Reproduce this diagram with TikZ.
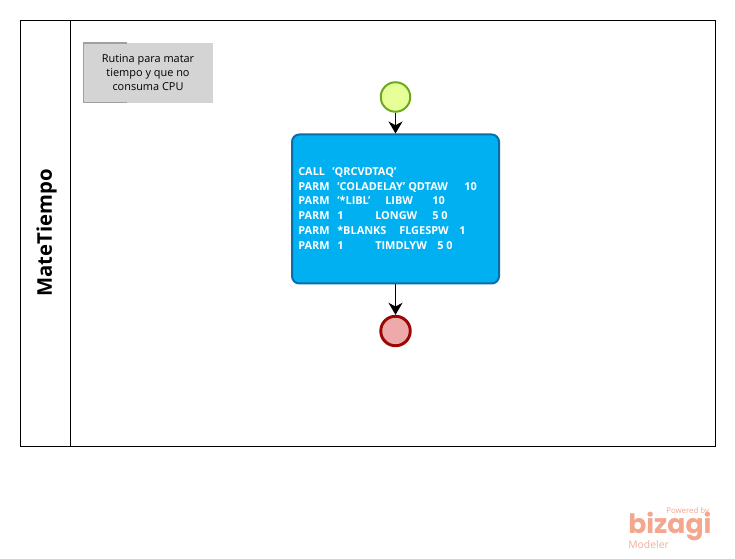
\documentclass[tikz,border=0pt]{standalone}
\usetikzlibrary{arrows.meta}
\usepackage{fontspec}
\setmainfont{Open Sans}
\newfontfamily\logofont{Poppins}
\definecolor{taskfill}{HTML}{00B0F0}
\definecolor{taskline}{HTML}{0B6EA8}
\definecolor{startfill}{HTML}{E6FF97}
\definecolor{startline}{HTML}{6DA91E}
\definecolor{endfill}{HTML}{EEAAAA}
\definecolor{endline}{HTML}{9E0505}
\definecolor{notefill}{HTML}{D4D4D4}
\definecolor{noteline}{HTML}{A0A0A0}
\definecolor{logoa}{HTML}{F5A68E}
\definecolor{logob}{HTML}{F2AE9C}
\newlength{\pxu}\setlength{\pxu}{0.75pt}
\newcommand{\tp}[2]{\makebox[0pt][l]{\hspace{#1\pxu}#2}}
\tikzset{
  x=0.75pt,y=-0.75pt,
  lane/.style={draw=black,line width=0.9pt,fill=none},
  flow/.style={draw=black,line width=1pt,-{Stealth[length=9pt,width=10.5pt,inset=2.8pt]}},
  taskbox/.style={draw=taskline,line width=1.5pt,fill=taskfill,rounded corners=5.5pt,minimum width=207\pxu,minimum height=149\pxu,inner sep=0pt},
  startev/.style={circle,draw=startline,line width=1.5pt,fill=startfill,minimum size=29.5\pxu,inner sep=0pt},
  endev/.style={circle,draw=endline,line width=2.2pt,fill=endfill,minimum size=29.5\pxu,inner sep=0pt},
  notebox/.style={fill=notefill,minimum width=130\pxu,minimum height=60\pxu,inner sep=0pt,align=center,font=\fontsize{8.2pt}{10.5pt}\selectfont,text=black},
  tasktext/.style={anchor=north west,inner sep=0pt,text=white,font=\fontsize{8.2pt}{11pt}\selectfont\bfseries},
  lanelabel/.style={rotate=90,font=\fontsize{15.2pt}{18pt}\selectfont\bfseries,inner sep=0pt},
  logo/.style={inner sep=0pt,anchor=base west}
}
\begin{document}
\begin{tikzpicture}
\useasboundingbox (0,0) rectangle (735,559);
\fill[white] (0,0) rectangle (735,559);
\draw[lane] (20.5,20.5) rectangle (715.5,446.5);
\draw[lane] (70.5,20.5) -- (70.5,446.5);
\node[lanelabel] (title) at (46.5,233) {MateTiempo};
\node[notebox] (note) at (148,73) {Rutina para matar\\tiempo y que no\\consuma CPU};
\draw[noteline,line width=0.8pt] (127,43) -- (83.5,43) -- (83.5,102.5) -- (127,102.5);
\node[startev] (start) at (395.5,97) {};
\node[taskbox] (task) at (395.5,209) {};
\node[endev] (finish) at (395.5,331) {};
\draw[flow] (start) -- (task);
\draw[flow] (task) -- (finish);
\node[tasktext] (code) at (298,165) {%
\begin{minipage}[t]{195\pxu}\baselineskip=14.7\pxu
\strut\tp{0}{CALL}\tp{34}{'QRCVDTAQ'}\\
\strut\tp{0}{PARM}\tp{39}{'COLADELAY'}\tp{110}{QDTAW}\tp{166}{10}\\
\strut\tp{0}{PARM}\tp{39}{'*LIBL'}\tp{87}{LIBW}\tp{134}{10}\\
\strut\tp{0}{PARM}\tp{39}{1}\tp{77}{LONGW}\tp{134}{5 0}\\
\strut\tp{0}{PARM}\tp{39}{*BLANKS}\tp{101}{FLGESPW}\tp{161}{1}\\
\strut\tp{0}{PARM}\tp{39}{1}\tp{77}{TIMDLYW}\tp{139}{5 0}
\end{minipage}};
\node[logo,text=logoa,font=\fontsize{5.9pt}{7pt}\selectfont] (pw) at (666,513) {Powered by};
\node[logo,text=logoa,font=\logofont\fontsize{20pt}{22pt}\selectfont\bfseries] (bz) at (628,533) {bizagi};
\node[logo,text=logob,font=\fontsize{7.8pt}{9pt}\selectfont] (md) at (628,548) {Modeler};
\end{tikzpicture}
\end{document}
